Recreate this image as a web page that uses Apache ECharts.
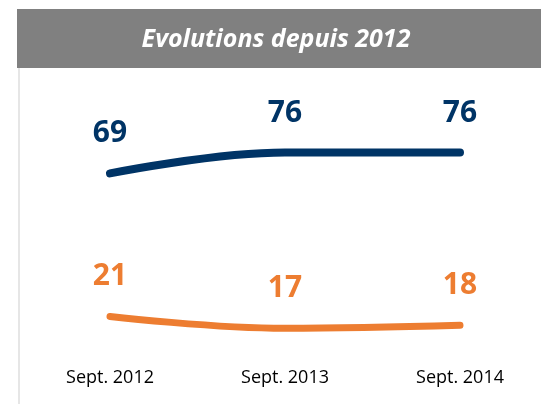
<!DOCTYPE html>
<html>
<head>
<meta charset="utf-8">
<script src="https://cdn.jsdelivr.net/npm/echarts@6/dist/echarts.min.js"></script>
<style>
  html, body { margin: 0; padding: 0; background: #fff; }
  #main { width: 541px; height: 404px; }
</style>
</head>
<body>
<div id="main"></div>
<script>
var categories = ['Sept. 2012', 'Sept. 2013', 'Sept. 2014'];
var blueValues = [69, 76, 76];
var orangeValues = [21, 17, 18];
var titleText = 'Evolutions depuis 2012';

var myChart = echarts.init(document.getElementById('main'));

var labelFont = {
    show: true,
    position: 'top',
    distance: 24,
    fontFamily: 'Open Sans',
    fontWeight: 'bold',
    fontSize: 30
};

var option = {
    animation: false,
    backgroundColor: '#fff',
    graphic: [
        {
            type: 'rect',
            shape: { x: 17, y: 9, width: 524, height: 59 },
            style: { fill: '#808080' }
        },
        {
            type: 'rect',
            shape: { x: 18, y: 68, width: 2, height: 336 },
            style: { fill: '#e6e6e6' }
        },
        {
            type: 'text',
            x: 276,
            y: 40,
            style: {
                text: titleText,
                fill: '#fff',
                fontFamily: 'Open Sans',
                fontStyle: 'italic',
                fontWeight: 'bold',
                fontSize: 25,
                align: 'center',
                verticalAlign: 'middle'
            }
        }
    ],
    grid: {
        left: 110,
        right: 81,
        top: 81,
        bottom: 25
    },
    xAxis: {
        type: 'category',
        data: categories,
        boundaryGap: false,
        offset: -10,
        axisLine: { show: false },
        axisTick: { show: false },
        axisLabel: {
            color: '#000',
            fontFamily: 'Open Sans',
            fontSize: 18,
            margin: 0
        }
    },
    yAxis: {
        type: 'value',
        min: 0,
        max: 100,
        show: false
    },
    series: [
        {
            type: 'line',
            data: blueValues,
            smooth: 0.4,
            symbol: 'circle',
            symbolSize: 1,
            itemStyle: { color: '#003466' },
            lineStyle: { color: '#003466', width: 8, cap: 'round' },
            label: Object.assign({ color: '#003466' }, labelFont)
        },
        {
            type: 'line',
            data: orangeValues,
            smooth: 0.4,
            symbol: 'circle',
            symbolSize: 1,
            itemStyle: { color: '#ED7D31' },
            lineStyle: { color: '#ED7D31', width: 7, cap: 'round' },
            label: Object.assign({ color: '#ED7D31' }, labelFont)
        }
    ]
};

myChart.setOption(option);
</script>
</body>
</html>
